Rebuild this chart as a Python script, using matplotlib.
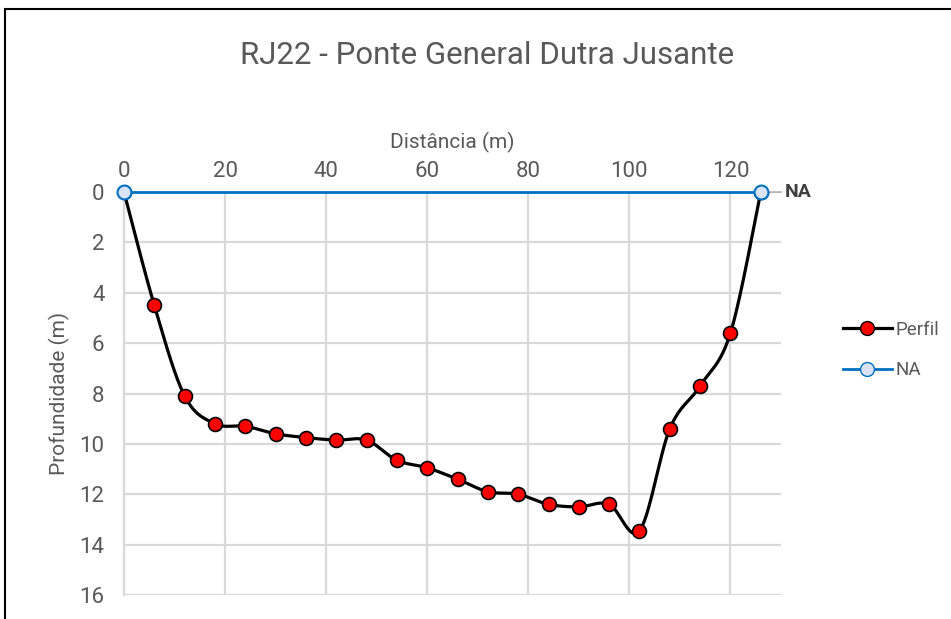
import matplotlib.pyplot as plt
import numpy as np
from matplotlib.patches import Rectangle

# data
distancia = [0, 6, 12, 18, 24, 30, 36, 42, 48, 54, 60, 66, 72, 78, 84, 90, 96, 102, 108, 114, 120, 126]
profundidade = [0, 4.5, 8.1, 9.2, 9.3, 9.6, 9.75, 9.85, 9.85, 10.65, 10.95, 11.4, 11.9, 12.0,
                12.4, 12.5, 12.4, 13.45, 9.4, 7.7, 5.6, 0]
na_x = [0, 126]
na_y = [0, 0]
x_ticks = [0, 20, 40, 60, 80, 100, 120]
y_ticks = [0, 2, 4, 6, 8, 10, 12, 14, 16]

plt.rcParams['font.family'] = ['Roboto', 'DejaVu Sans']
gray = '#595959'


def smooth(xs, ys, n=30):
    # Excel-like smoothed line (Catmull-Rom as cubic Bezier)
    p = np.column_stack([xs, ys]).astype(float)
    out = []
    for i in range(len(p) - 1):
        p0 = p[i - 1] if i > 0 else p[i]
        p1, p2 = p[i], p[i + 1]
        p3 = p[i + 2] if i + 2 < len(p) else p[i + 1]
        b1 = p1 + (p2 - p0) / 6
        b2 = p2 - (p3 - p1) / 6
        t = np.linspace(0, 1, n)[:, None]
        seg = (1 - t) ** 3 * p1 + 3 * (1 - t) ** 2 * t * b1 + 3 * (1 - t) * t ** 2 * b2 + t ** 3 * p2
        out.append(seg if i == 0 else seg[1:])
    out = np.vstack(out)
    return out[:, 0], out[:, 1]


fig = plt.figure(figsize=(9.51, 6.19), dpi=100)
ax = fig.add_axes([124 / 951, 1 - 595 / 619, (781 - 124) / 951, (595 - 192) / 619])

# outer chart border (cropped at right/bottom)
fig.patches.append(Rectangle((5 / 951, -0.1), 1.2, 1 - 9 / 619 + 0.1, transform=fig.transFigure,
                             fill=False, edgecolor='black', linewidth=1.5))

sx, sy = smooth(distancia, profundidade)
ax.plot(sx, sy, color='black', linewidth=2.3, zorder=3)
ax.plot(distancia, profundidade, linestyle='none', marker='o', markersize=10,
        markerfacecolor='#ff0000', markeredgecolor='black', markeredgewidth=1.2, zorder=4)
ax.plot(na_x, na_y, color='#0070c0', linewidth=2, marker='o', markersize=10,
        markerfacecolor='#dae3f3', markeredgecolor='#0070c0', markeredgewidth=1.5, zorder=5,
        clip_on=False)

# legend proxies
ax.plot([], [], color='black', linewidth=2.3, marker='o', markersize=10,
        markerfacecolor='#ff0000', markeredgecolor='black', label='Perfil')
ax.plot([], [], color='#0070c0', linewidth=2, marker='o', markersize=10,
        markerfacecolor='#dae3f3', markeredgecolor='#0070c0', label='NA')

ax.annotate('NA', xy=(na_x[-1], na_y[-1]), xytext=(17, 0), textcoords='offset points',
            fontsize=14, fontweight='bold', color='#404040', va='center', ha='left',
            arrowprops=dict(arrowstyle='-', color='#a6a6a6', lw=1, shrinkA=0, shrinkB=6))

ax.set_xlim(0, 130)
ax.set_ylim(16, 0)
ax.xaxis.tick_top()
ax.xaxis.set_label_position('top')
ax.set_xticks(x_ticks)
ax.set_yticks(y_ticks)
ax.tick_params(length=0, labelsize=16, labelcolor=gray)
ax.tick_params(axis='y', pad=14)
ax.tick_params(axis='x', pad=7)
ax.set_xlabel('Distância (m)', fontsize=15, color=gray, labelpad=9)
ax.set_ylabel('Profundidade (m)', fontsize=15, color=gray, labelpad=7)
ax.grid(True, color='#d9d9d9', linewidth=1.6)
ax.set_axisbelow(True)
for s in ['top', 'right', 'bottom']:
    ax.spines[s].set_visible(False)
ax.spines['left'].set_color('#d9d9d9')
ax.spines['left'].set_linewidth(1.6)

fig.text(487 / 951, 1 - 55 / 619, 'RJ22 - Ponte General Dutra Jusante', fontsize=22.5,
         color=gray, ha='center', va='center')

fig.legend(loc='center left', bbox_to_anchor=(826 / 951, 1 - 350 / 619), frameon=False,
           fontsize=13.5, labelcolor=gray, handlelength=2.6, handletextpad=0.2, labelspacing=1.2)

fig.savefig('out.png', dpi=100)
